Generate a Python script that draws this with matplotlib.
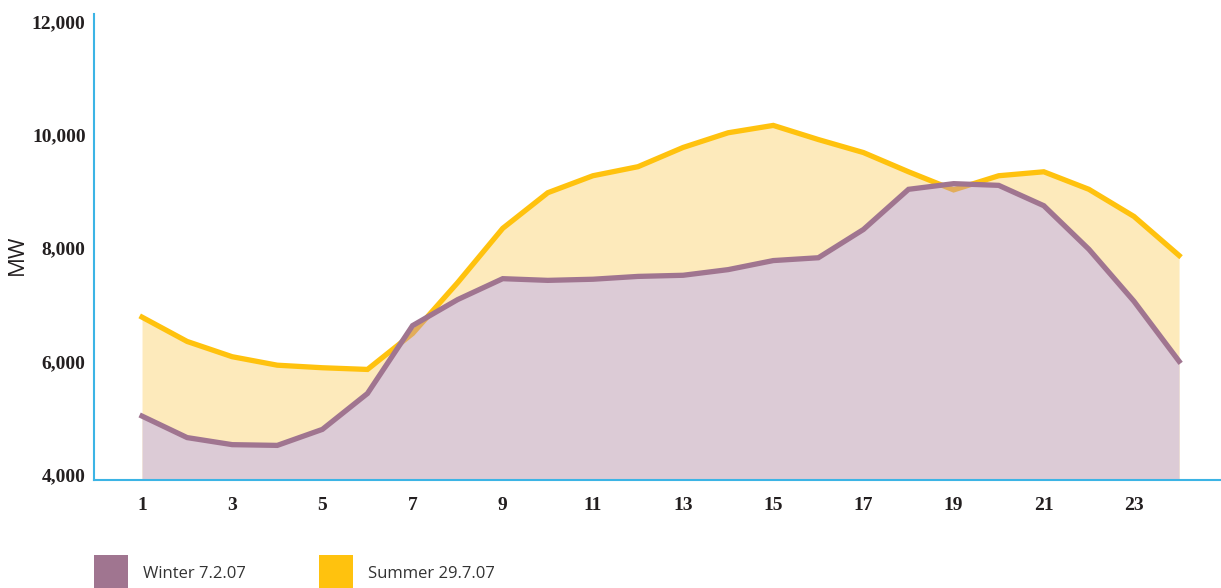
import numpy as np
import matplotlib
matplotlib.use("Agg")
import matplotlib.pyplot as plt
from matplotlib.patches import Patch

hours = np.arange(1, 25)
winter = [5030, 4650, 4525, 4512, 4795, 5430, 6630, 7090, 7460, 7430, 7450, 7500,
          7520, 7620, 7780, 7830, 8330, 9040, 9140, 9110, 8750, 7980, 7060, 6000]
summer = [6780, 6350, 6080, 5930, 5885, 5855, 6490, 7390, 8350, 8980, 9280, 9440,
          9780, 10040, 10170, 9920, 9690, 9350, 9030, 9280, 9350, 9040, 8560, 7870]
xticks = list(range(1, 24, 2))
yticks = [4000, 6000, 8000, 10000, 12000]
labels = ["Winter 7.2.07", "Summer 29.7.07"]

c_winter = "#a07590"
c_summer = "#ffc20e"
c_wfill = "#dccbd6"
c_sfill = "#fdeabb"
c_axis = "#3cb4e5"

fig = plt.figure(figsize=(12.21, 5.88), dpi=100)
ax = fig.add_axes([94 / 1221, 1 - 480 / 588, 1 - 94 / 1221, (480 - 14) / 588])

ybase = 3900
ax.fill_between(hours, ybase, summer, color=c_sfill, lw=0, zorder=1)
ax.plot(hours, summer, color=c_summer, lw=3.8, solid_joinstyle="miter", zorder=1.5)
wf = ax.fill_between(hours, ybase, winter, color=c_wfill, lw=0, zorder=2)
# summer line showing through the winter area
over, = ax.plot(hours, summer, color="#e2ad5a", lw=3.8, solid_joinstyle="miter", zorder=2.5)
over.set_clip_path(wf.get_paths()[0], transform=ax.transData)
ax.plot(hours, winter, color=c_winter, lw=3.8, solid_joinstyle="miter", zorder=3)

ax.set_xlim(-0.065, 24.93)
ax.set_ylim(ybase, 12140)
ax.set_xticks(xticks)
ax.set_yticks(yticks)
ax.set_yticklabels([f"{v:,}" for v in yticks])
for s in ["top", "right"]:
    ax.spines[s].set_visible(False)
for s in ["left", "bottom"]:
    ax.spines[s].set_color(c_axis)
    ax.spines[s].set_linewidth(1.5)
    ax.spines[s].set_zorder(5)
ax.tick_params(axis="y", length=0, pad=6)
ax.tick_params(axis="x", length=0, pad=12)
for t in ax.get_xticklabels() + ax.get_yticklabels():
    t.set_fontfamily("Liberation Serif")
    t.set_fontweight("bold")
    t.set_fontsize(14)
    t.set_color("#231f20")
ax.set_ylabel("MW", fontsize=16, fontfamily="Open Sans", color="#231f20")
ax.yaxis.set_label_coords(-66 / 1127, (480 - 255) / 466)

handles = [Patch(facecolor=c_winter, edgecolor="none"), Patch(facecolor=c_summer, edgecolor="none")]
fig.legend(handles, labels, loc="upper left", bbox_to_anchor=(94 / 1221, 1 - 555 / 588),
           ncol=2, frameon=False, borderpad=0, borderaxespad=0,
           handlelength=2.05, handleheight=2.9, handletextpad=0.9, columnspacing=4.35,
           prop={"family": "Open Sans", "size": 12}, labelcolor="#333333")

fig.savefig("out.png", dpi=100)
